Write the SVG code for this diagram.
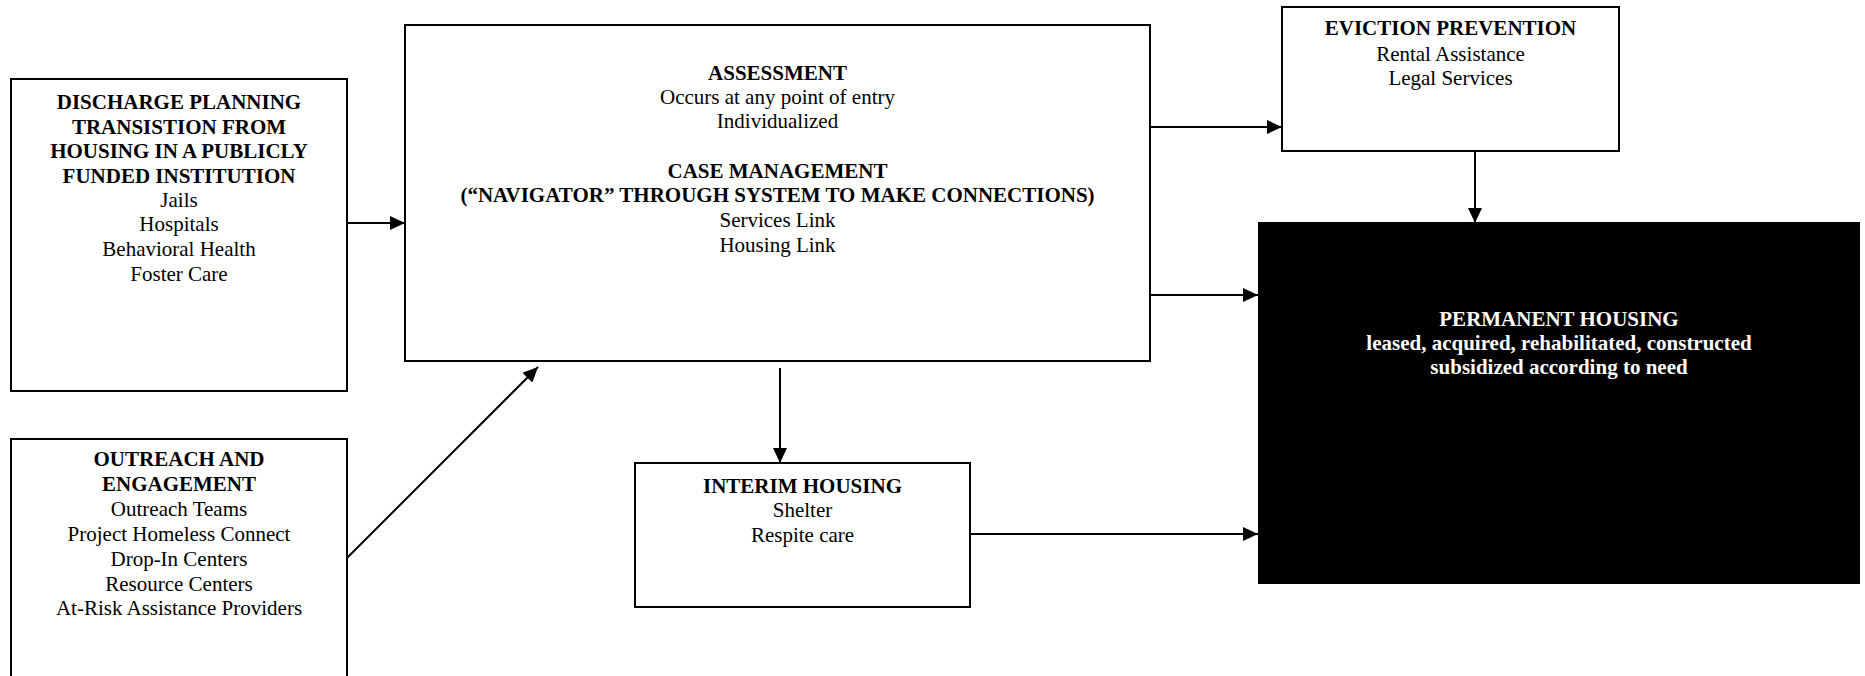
<svg xmlns="http://www.w3.org/2000/svg" width="1865" height="676" viewBox="0 0 1865 676">
<style>
.box{fill:#fff;stroke:#000;stroke-width:2}
.dark{fill:#000;stroke:#000;stroke-width:2}
.t{font-family:"Liberation Serif","Times New Roman",serif;font-size:21px;text-anchor:middle;fill:#000}
.b{font-weight:bold}
.w{fill:#fff}
.c{stroke:#000;stroke-width:2;fill:none;marker-end:url(#ah)}
</style>
<defs>
<marker id="ah" viewBox="0 0 15 14" refX="15" refY="7" markerWidth="15" markerHeight="14" markerUnits="userSpaceOnUse" orient="auto">
<path d="M0,0 L15,7 L0,14 Z" fill="#000"/>
</marker>
</defs>
<rect width="1865" height="676" fill="#fff"/>
<g id="connectors">
<line class="c" x1="347" y1="223" x2="405" y2="223"/>
<line class="c" x1="347" y1="558" x2="538" y2="367"/>
<line class="c" x1="1150" y1="127" x2="1282" y2="127"/>
<line class="c" x1="1150" y1="295" x2="1258" y2="295"/>
<line class="c" x1="1475" y1="151" x2="1475" y2="223"/>
<line class="c" x1="780" y1="368" x2="780" y2="463"/>
<line class="c" x1="970" y1="534" x2="1258" y2="534"/>
</g>
<g id="discharge">
<rect class="box" x="11" y="79" width="336" height="312"/>
<text class="t b" x="179" y="109">DISCHARGE PLANNING</text>
<text class="t b" x="179" y="134">TRANSISTION FROM</text>
<text class="t b" x="179" y="158">HOUSING IN A PUBLICLY</text>
<text class="t b" x="179" y="183">FUNDED INSTITUTION</text>
<text class="t" x="179" y="207">Jails</text>
<text class="t" x="179" y="231">Hospitals</text>
<text class="t" x="179" y="256">Behavioral Health</text>
<text class="t" x="179" y="281">Foster Care</text>
</g>
<g id="outreach">
<rect class="box" x="11" y="439" width="336" height="245"/>
<text class="t b" x="179" y="466">OUTREACH AND</text>
<text class="t b" x="179" y="491">ENGAGEMENT</text>
<text class="t" x="179" y="516">Outreach Teams</text>
<text class="t" x="179" y="541">Project Homeless Connect</text>
<text class="t" x="179" y="566">Drop-In Centers</text>
<text class="t" x="179" y="591">Resource Centers</text>
<text class="t" x="179" y="615">At-Risk Assistance Providers</text>
</g>
<g id="assessment">
<rect class="box" x="405" y="25" width="745" height="336"/>
<text class="t b" x="777.5" y="80">ASSESSMENT</text>
<text class="t" x="777.5" y="104">Occurs at any point of entry</text>
<text class="t" x="777.5" y="128">Individualized</text>
<text class="t b" x="777.5" y="178">CASE MANAGEMENT</text>
<text class="t b" x="777.5" y="202">(“NAVIGATOR” THROUGH SYSTEM TO MAKE CONNECTIONS)</text>
<text class="t" x="777.5" y="227">Services Link</text>
<text class="t" x="777.5" y="252">Housing Link</text>
</g>
<g id="eviction">
<rect class="box" x="1282" y="7" width="337" height="144"/>
<text class="t b" x="1450.5" y="35">EVICTION PREVENTION</text>
<text class="t" x="1450.5" y="61">Rental Assistance</text>
<text class="t" x="1450.5" y="85">Legal Services</text>
</g>
<g id="permanent">
<rect class="dark" x="1259" y="223" width="600" height="360"/>
<text class="t b w" x="1559" y="326">PERMANENT HOUSING</text>
<text class="t b w" x="1559" y="350">leased, acquired, rehabilitated, constructed</text>
<text class="t b w" x="1559" y="374">subsidized according to need</text>
</g>
<g id="interim">
<rect class="box" x="635" y="463" width="335" height="144"/>
<text class="t b" x="802.5" y="493">INTERIM HOUSING</text>
<text class="t" x="802.5" y="517">Shelter</text>
<text class="t" x="802.5" y="542">Respite care</text>
</g>
</svg>
